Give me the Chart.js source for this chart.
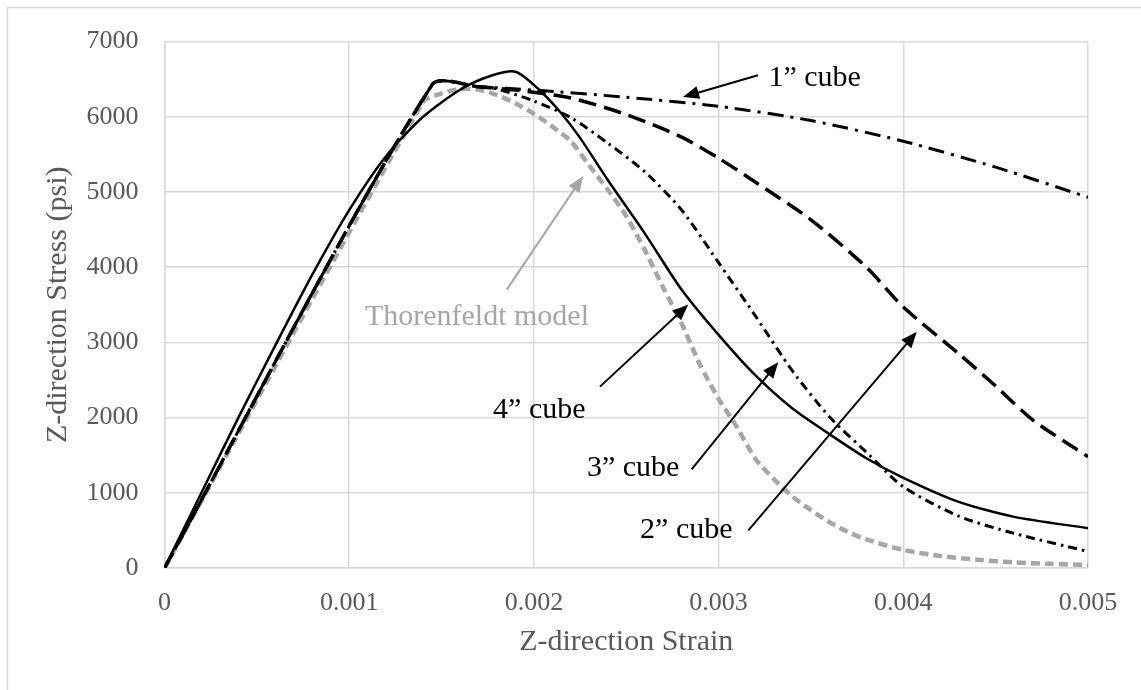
<!DOCTYPE html>
<html>
<head>
<meta charset="utf-8">
<script src="https://cdn.jsdelivr.net/npm/chart.js@4.4.1/dist/chart.umd.min.js"></script>
<style>
  html, body { margin: 0; padding: 0; background: #fff; }
  canvas { display: block; }
</style>
</head>
<body>
<canvas id="stressChart" width="1141" height="690"></canvas>
<script>
// axis ticks
const strainTicks = [0, 0.001, 0.002, 0.003, 0.004, 0.005];
const strainTickLabels = ['0', '0.001', '0.002', '0.003', '0.004', '0.005'];
const stressTickLabels = ['0', '1000', '2000', '3000', '4000', '5000', '6000', '7000'];

// 1" cube
const cube1Strain = [0, 0.00145, 0.0017, 0.002, 0.0025, 0.003, 0.0035, 0.004, 0.0045, 0.005];
const cube1Stress = [0, 6430, 6400, 6355, 6260, 6140, 5950, 5675, 5330, 4930];

// 2" cube
const cube2Strain = [0, 0.00145, 0.0017, 0.0019, 0.0022, 0.0025, 0.0028, 0.003, 0.0032, 0.0035, 0.0038, 0.004, 0.0043, 0.0045, 0.0047, 0.005];
const cube2Stress = [0, 6430, 6400, 6355, 6250, 6030, 5730, 5450, 5130, 4630, 4000, 3470, 2850, 2420, 1970, 1480];

// 3" cube
const cube3Strain = [0, 0.00145, 0.0017, 0.0018, 0.002, 0.0022, 0.0024, 0.0026, 0.0028, 0.003, 0.0032, 0.0034, 0.0036, 0.0038, 0.004, 0.0043, 0.0046, 0.005];
const cube3Stress = [0, 6430, 6400, 6370, 6210, 5990, 5650, 5270, 4760, 4060, 3350, 2620, 2010, 1540, 1080, 690, 460, 220];

// 4" cube
const cube4Strain = [0, 0.0002, 0.0004, 0.0006, 0.0008, 0.001, 0.0012, 0.0014, 0.0016, 0.00176, 0.0019, 0.00202, 0.00214, 0.00225, 0.0024, 0.0026, 0.0028, 0.003, 0.0032, 0.0034, 0.0036, 0.0038, 0.004, 0.0043, 0.0046, 0.005];
const cube4Stress = [0, 1000, 2000, 2960, 3900, 4760, 5480, 6000, 6360, 6540, 6600, 6380, 6070, 5720, 5160, 4450, 3700, 3100, 2560, 2120, 1780, 1460, 1200, 880, 680, 530];

// Thorenfeldt model
const thorStrain = [0, 0.0014, 0.0015, 0.0016, 0.0017, 0.0018, 0.0019, 0.002, 0.0021, 0.0022, 0.0023, 0.0024, 0.0025, 0.0026, 0.0027, 0.0028, 0.0029, 0.003, 0.0031, 0.0032, 0.0033, 0.0034, 0.0035, 0.0036, 0.0037, 0.0038, 0.004, 0.0042, 0.0044, 0.0046, 0.0048, 0.005];
const thorStress = [0, 6200, 6310, 6370, 6360, 6290, 6180, 6040, 5870, 5675, 5350, 5030, 4680, 4230, 3730, 3250, 2700, 2250, 1870, 1450, 1180, 950, 770, 610, 480, 380, 240, 160, 110, 75, 55, 40];

// callouts: label, text anchor (strain, stress), arrow from -> to
const callouts = [
  { text: '1\u201d cube', at: [0.00327, 6510], from: [0.003213, 6553], to: [0.002807, 6263], color: '#000' },
  { text: 'Thorenfeldt model', at: [0.001085, 3330], from: [0.001853, 3702], to: [0.002266, 5210], color: '#a6a6a6' },
  { text: '4\u201d cube', at: [0.001779, 2105], from: [0.002358, 2412], to: [0.002836, 3504], color: '#000' },
  { text: '3\u201d cube', at: [0.002287, 1330], from: [0.002854, 1311], to: [0.003323, 2737], color: '#000' },
  { text: '2\u201d cube', at: [0.002575, 500], from: [0.003161, 500], to: [0.004073, 3141], color: '#000' }
];

const serif = '"Liberation Serif", "Times New Roman", serif';
const gridGray = '#d9d9d9';
const textGray = '#595959';

const pts = (xs, ys) => xs.map((x, i) => ({ x: x, y: ys[i] }));

function line(label, xs, ys, color, width, dash) {
  return {
    label: label,
    data: pts(xs, ys),
    showLine: true,
    borderColor: color,
    borderWidth: width,
    borderDash: dash,
    borderCapStyle: 'butt',
    borderJoinStyle: 'round',
    pointRadius: 0,
    tension: 0.25,
    fill: false
  };
}

function arrow(ctx, x1, y1, x2, y2, color) {
  const ang = Math.atan2(y2 - y1, x2 - x1);
  const len = 16, half = 6.5;
  ctx.strokeStyle = color;
  ctx.fillStyle = color;
  ctx.lineWidth = 2;
  ctx.beginPath();
  ctx.moveTo(x1, y1);
  ctx.lineTo(x2 - Math.cos(ang) * len * 0.8, y2 - Math.sin(ang) * len * 0.8);
  ctx.stroke();
  ctx.beginPath();
  ctx.moveTo(x2, y2);
  ctx.lineTo(x2 - Math.cos(ang) * len - Math.sin(ang) * half, y2 - Math.sin(ang) * len + Math.cos(ang) * half);
  ctx.lineTo(x2 - Math.cos(ang) * len + Math.sin(ang) * half, y2 - Math.sin(ang) * len - Math.cos(ang) * half);
  ctx.closePath();
  ctx.fill();
}

const decorations = {
  id: 'decorations',
  beforeDraw(chart) {
    const ctx = chart.ctx;
    ctx.save();
    ctx.fillStyle = '#fff';
    ctx.fillRect(0, 0, chart.width, chart.height);
    // outer chart frame
    ctx.strokeStyle = gridGray;
    ctx.lineWidth = 1.5;
    ctx.beginPath();
    ctx.moveTo(7.5, chart.height);
    ctx.lineTo(7.5, 7.5);
    ctx.lineTo(chart.width, 7.5);
    ctx.stroke();
    ctx.restore();
  },
  afterDatasetsDraw(chart) {
    const ctx = chart.ctx;
    const xs = chart.scales.x, ys = chart.scales.y;
    const area = chart.chartArea;
    ctx.save();
    // axis titles
    ctx.fillStyle = textGray;
    ctx.font = '30px ' + serif;
    ctx.textAlign = 'center';
    ctx.textBaseline = 'middle';
    ctx.fillText('Z-direction Strain', (area.left + area.right) / 2, 642);
    ctx.save();
    ctx.translate(58, (area.top + area.bottom) / 2);
    ctx.rotate(-Math.PI / 2);
    ctx.fillText('Z-direction Stress (psi)', 0, 0);
    ctx.restore();
    // callouts
    callouts.forEach(c => {
      arrow(ctx, xs.getPixelForValue(c.from[0]), ys.getPixelForValue(c.from[1]),
        xs.getPixelForValue(c.to[0]), ys.getPixelForValue(c.to[1]), c.color);
      ctx.fillStyle = c.color;
      ctx.font = '30px ' + serif;
      ctx.textAlign = 'left';
      ctx.textBaseline = 'middle';
      ctx.fillText(c.text, xs.getPixelForValue(c.at[0]), ys.getPixelForValue(c.at[1]));
    });
    ctx.restore();
  }
};

new Chart(document.getElementById('stressChart'), {
  type: 'scatter',
  data: {
    datasets: [
      line('1" cube', cube1Strain, cube1Stress, '#000', 3, [16, 7, 3, 7]),
      line('2" cube', cube2Strain, cube2Stress, '#000', 3.5, [18, 8]),
      line('3" cube', cube3Strain, cube3Stress, '#000', 3, [9, 5, 2.5, 5]),
      line('4" cube', cube4Strain, cube4Stress, '#000', 2.5, []),
      line('Thorenfeldt model', thorStrain, thorStress, '#a6a6a6', 4.5, [9, 5])
    ]
  },
  options: {
    responsive: false,
    animation: false,
    layout: { autoPadding: false, padding: { left: 0, top: 36, right: 53, bottom: 0 } },
    plugins: {
      legend: { display: false },
      tooltip: { enabled: false },
      title: { display: false }
    },
    scales: {
      x: {
        type: 'linear',
        min: 0,
        max: 0.005,
        afterFit: s => { s.height = 122; },
        afterBuildTicks: s => { s.ticks = strainTicks.map(v => ({ value: v })); },
        ticks: {
          callback: (v, i) => strainTickLabels[i],
          color: textGray,
          font: { family: serif, size: 26 },
          padding: 20,
          maxRotation: 0
        },
        grid: { color: gridGray, lineWidth: 1.5, drawTicks: false },
        border: { color: gridGray, width: 1.5 }
      },
      y: {
        min: 0,
        max: 7000,
        afterFit: s => { s.width = 164.5; },
        ticks: {
          stepSize: 1000,
          callback: (v, i) => stressTickLabels[i],
          color: textGray,
          font: { family: serif, size: 26 },
          padding: 26
        },
        grid: { color: gridGray, lineWidth: 1.5, drawTicks: false },
        border: { color: gridGray, width: 1.5 }
      }
    }
  },
  plugins: [decorations]
});
</script>
</body>
</html>
